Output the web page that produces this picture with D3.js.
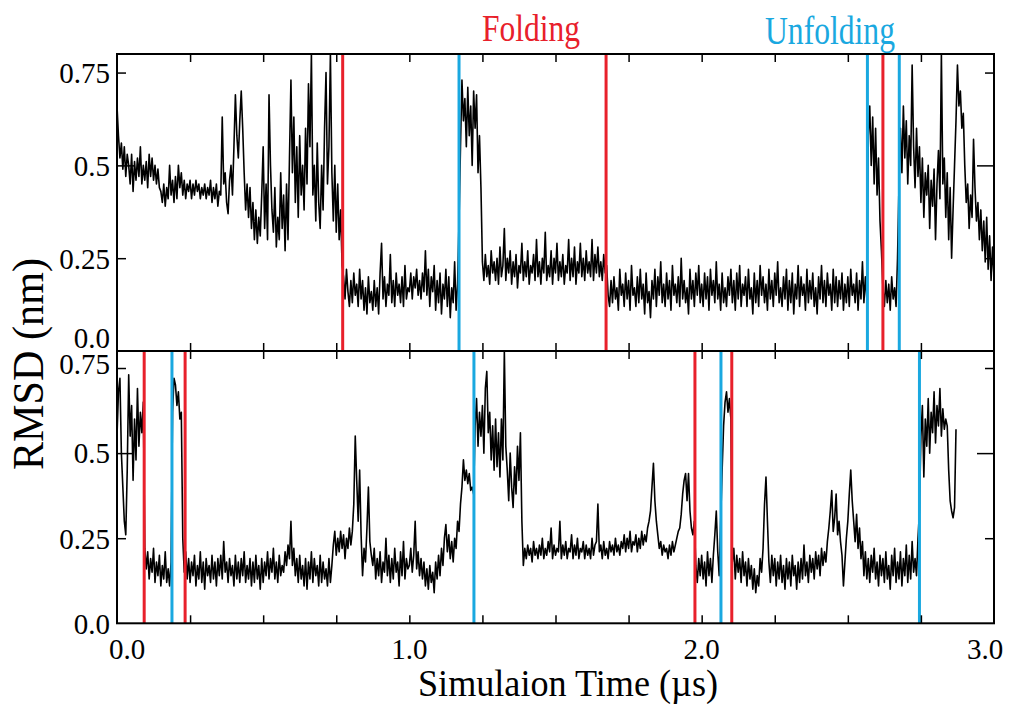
<!DOCTYPE html>
<html>
<head>
	<meta charset="utf-8">
	<title>RMSD folding / unfolding</title>
	<script src="https://cdn.jsdelivr.net/npm/d3@7/dist/d3.min.js"></script>
</head>
<style type="text/css">
body { margin: 0; background: #fff; }
text { font-family: "Liberation Serif", "Times New Roman", serif; }
</style>
<body>
</body>
</html>
<script type="text/javascript">
	// sampling step of the traces, in microseconds
	var dt = 0.005;

	// run 1 (top panel), RMSD in nm, one value every dt from 0 to 3.0 us
	var topRmsd = [
		0.66, 0.58, 0.52, 0.56, 0.49, 0.55, 0.47, 0.53, 0.50, 0.45, 0.53, 0.43, 0.51, 0.46, 0.52, 0.47, 0.55, 0.45, 0.50, 0.46,
		0.51, 0.44, 0.53, 0.47, 0.52, 0.46, 0.50, 0.45, 0.49, 0.44, 0.43, 0.40, 0.45, 0.39, 0.44, 0.41, 0.50, 0.42, 0.46, 0.40,
		0.47, 0.41, 0.50, 0.44, 0.48, 0.42, 0.46, 0.41, 0.45, 0.43, 0.46, 0.41, 0.45, 0.42, 0.46, 0.43, 0.45, 0.41, 0.44, 0.42,
		0.45, 0.41, 0.44, 0.42, 0.46, 0.40, 0.44, 0.41, 0.45, 0.39, 0.43, 0.42, 0.63, 0.45, 0.48, 0.40, 0.37, 0.46, 0.50, 0.42,
		0.55, 0.69, 0.58, 0.52, 0.62, 0.70, 0.60, 0.48, 0.38, 0.45, 0.36, 0.44, 0.33, 0.40, 0.30, 0.38, 0.29, 0.36, 0.31, 0.42,
		0.55, 0.33, 0.45, 0.30, 0.69, 0.50, 0.38, 0.32, 0.44, 0.28, 0.36, 0.30, 0.48, 0.33, 0.42, 0.27, 0.45, 0.30, 0.52, 0.73,
		0.48, 0.63, 0.40, 0.55, 0.36, 0.58, 0.42, 0.50, 0.38, 0.60, 0.45, 0.72, 0.55, 0.80, 0.42, 0.50, 0.35, 0.56, 0.40, 0.33,
		0.50, 0.38, 0.60, 0.75, 0.45, 0.55, 0.80, 0.48, 0.35, 0.50, 0.32, 0.45, 0.30, 0.38, 0.23, 0.20, 0.14, 0.22, 0.16, 0.12,
		0.19, 0.13, 0.21, 0.15, 0.18, 0.12, 0.22, 0.14, 0.19, 0.11, 0.17, 0.10, 0.20, 0.13, 0.16, 0.11, 0.19, 0.12, 0.17, 0.10,
		0.21, 0.29, 0.14, 0.20, 0.12, 0.18, 0.15, 0.26, 0.13, 0.19, 0.12, 0.21, 0.15, 0.18, 0.13, 0.20, 0.12, 0.23, 0.14, 0.17,
		0.16, 0.21, 0.14, 0.20, 0.17, 0.22, 0.15, 0.19, 0.14, 0.21, 0.16, 0.27, 0.15, 0.22, 0.12, 0.20, 0.16, 0.23, 0.11, 0.19,
		0.13, 0.21, 0.10, 0.18, 0.14, 0.22, 0.12, 0.20, 0.09, 0.17, 0.13, 0.24, 0.11, 0.18,
		0.35, 0.55, 0.73, 0.62, 0.68, 0.55, 0.71, 0.58, 0.66, 0.50, 0.70, 0.60, 0.69, 0.48, 0.58, 0.44,
		0.24, 0.19, 0.26, 0.20, 0.23, 0.18, 0.27, 0.21, 0.24, 0.19,
		0.25, 0.18, 0.28, 0.20, 0.23, 0.33, 0.19, 0.25, 0.21, 0.27,
		0.18, 0.24, 0.20, 0.26, 0.17, 0.23, 0.21, 0.29, 0.19, 0.24,
		0.20, 0.27, 0.18, 0.23, 0.21, 0.26, 0.19, 0.30, 0.20, 0.24,
		0.18, 0.25, 0.21, 0.32, 0.19, 0.23, 0.20, 0.27, 0.18, 0.25,
		0.21, 0.29, 0.19, 0.24, 0.20, 0.26, 0.18, 0.23, 0.21, 0.30,
		0.19, 0.25, 0.20, 0.28, 0.18, 0.24, 0.21, 0.29, 0.20, 0.25,
		0.19, 0.27, 0.21, 0.24, 0.20, 0.30, 0.19, 0.26, 0.21, 0.28,
		0.20, 0.24, 0.19, 0.26, 0.21, 0.23,
		0.15, 0.12, 0.19, 0.13,
		0.20, 0.14, 0.17, 0.11, 0.22, 0.15, 0.18, 0.12, 0.21, 0.14,
		0.19, 0.11, 0.23, 0.15, 0.17, 0.12, 0.20, 0.13, 0.22, 0.14,
		0.18, 0.10, 0.21, 0.13, 0.16, 0.09, 0.19, 0.14, 0.22, 0.12,
		0.20, 0.15, 0.24, 0.13, 0.18, 0.12, 0.21, 0.14, 0.19, 0.11,
		0.23, 0.15, 0.18, 0.13, 0.20, 0.12, 0.25, 0.14, 0.19, 0.13,
		0.17, 0.10, 0.22, 0.14, 0.19, 0.12, 0.21, 0.15, 0.23, 0.13,
		0.18, 0.12, 0.21, 0.14, 0.20, 0.11, 0.22, 0.15, 0.19, 0.13,
		0.24, 0.14, 0.18, 0.11, 0.21, 0.13, 0.17, 0.12, 0.20, 0.15,
		0.22, 0.13, 0.19, 0.11, 0.21, 0.14, 0.23, 0.12, 0.18, 0.15,
		0.20, 0.12, 0.22, 0.14, 0.17, 0.10, 0.21, 0.13, 0.19, 0.12,
		0.23, 0.15, 0.20, 0.13, 0.18, 0.11, 0.22, 0.14, 0.19, 0.12,
		0.21, 0.15, 0.24, 0.13, 0.17, 0.12, 0.20, 0.14, 0.22, 0.11,
		0.19, 0.13, 0.21, 0.10, 0.18, 0.14, 0.23, 0.12, 0.20, 0.15,
		0.18, 0.11, 0.22, 0.13, 0.19, 0.14, 0.21, 0.12, 0.17, 0.10,
		0.20, 0.14, 0.23, 0.13, 0.19, 0.12, 0.21, 0.15, 0.18, 0.11,
		0.22, 0.13, 0.20, 0.12, 0.19, 0.14, 0.21, 0.11, 0.18, 0.13,
		0.20, 0.12, 0.22, 0.15, 0.18, 0.13, 0.21, 0.11, 0.19, 0.14,
		0.24, 0.13, 0.20, 0.14,
		0.58, 0.66, 0.50, 0.63, 0.45, 0.60, 0.42, 0.52, 0.35, 0.27,
		0.17, 0.12, 0.19, 0.13, 0.18, 0.11, 0.20, 0.14, 0.17, 0.12,
		0.25, 0.45,
		0.60, 0.48, 0.66, 0.52, 0.62, 0.45, 0.58, 0.50, 0.77, 0.55, 0.44, 0.60, 0.47, 0.55,
		0.40, 0.52, 0.36, 0.48, 0.42, 0.50, 0.33, 0.46, 0.39, 0.49, 0.30, 0.45, 0.54, 0.41,
		0.80,
		0.45, 0.52, 0.36, 0.48, 0.30, 0.44, 0.25, 0.38, 0.50,
		0.62, 0.77, 0.66, 0.70, 0.60, 0.64,
		0.50, 0.40, 0.45, 0.33, 0.42, 0.36, 0.57, 0.44, 0.35, 0.40,
		0.30, 0.38, 0.27, 0.35, 0.24, 0.36, 0.22, 0.31, 0.19, 0.28, 0.20
	];

	// run 2 (bottom panel), same step, ends at 2.87 us
	var bottomRmsd = [
		0.55, 0.68, 0.72, 0.50, 0.40, 0.30, 0.26, 0.45, 0.73, 0.55, 0.64, 0.42, 0.60, 0.48, 0.69, 0.52, 0.62, 0.56, 0.65,
		0.22,
		0.16, 0.21, 0.13, 0.19, 0.15, 0.22, 0.12, 0.18, 0.14, 0.20, 0.11, 0.17, 0.13, 0.21, 0.12, 0.16, 0.11,
		0.18, 0.62, 0.72, 0.70, 0.64, 0.68, 0.60, 0.62, 0.25,
		0.15, 0.21, 0.13, 0.19,
		0.12, 0.18, 0.14, 0.20, 0.11, 0.17, 0.13, 0.21, 0.12, 0.18,
		0.10, 0.19, 0.14, 0.17, 0.12, 0.20, 0.13, 0.18, 0.11, 0.19,
		0.14, 0.20, 0.13, 0.24, 0.15, 0.18, 0.12, 0.19, 0.14, 0.17,
		0.11, 0.20, 0.13, 0.18, 0.12, 0.19, 0.14, 0.21, 0.12, 0.17,
		0.13, 0.19, 0.11, 0.18, 0.12, 0.20, 0.13, 0.17, 0.10, 0.19,
		0.12, 0.18, 0.14, 0.21, 0.13, 0.19, 0.15, 0.22, 0.13, 0.18,
		0.12, 0.20, 0.14, 0.17, 0.15, 0.21, 0.17, 0.23, 0.19, 0.30,
		0.17, 0.22, 0.14, 0.19, 0.12, 0.20, 0.13, 0.17, 0.11, 0.19,
		0.10, 0.18, 0.13, 0.21, 0.12, 0.19, 0.14, 0.17, 0.11, 0.20,
		0.12, 0.18, 0.13, 0.16, 0.11, 0.19, 0.12, 0.17,
		0.23, 0.27, 0.20, 0.25, 0.21, 0.27, 0.22, 0.26, 0.19, 0.25, 0.22, 0.28, 0.23, 0.27,
		0.35, 0.55, 0.42, 0.30, 0.45, 0.26, 0.14, 0.22, 0.18, 0.28, 0.40, 0.24, 0.20, 0.17,
		0.22, 0.13, 0.19, 0.14,
		0.21, 0.12, 0.18, 0.15, 0.25, 0.14, 0.20, 0.12, 0.19, 0.13,
		0.22, 0.15, 0.18, 0.11, 0.21, 0.14, 0.24, 0.13, 0.19, 0.16,
		0.17, 0.22, 0.15, 0.20, 0.30, 0.16, 0.21, 0.14, 0.19, 0.13,
		0.18, 0.11, 0.16, 0.10, 0.17, 0.12, 0.15, 0.09, 0.18, 0.13,
		0.20, 0.14, 0.22, 0.17, 0.25, 0.29, 0.21, 0.26, 0.19, 0.24,
		0.18, 0.25, 0.22, 0.30, 0.27, 0.35, 0.40, 0.48, 0.42, 0.45, 0.41, 0.44, 0.39, 0.40,
		0.38, 0.58, 0.66, 0.52, 0.62, 0.55, 0.64, 0.50, 0.69, 0.74, 0.56, 0.62, 0.48, 0.58, 0.45, 0.60,
		0.46, 0.56, 0.43, 0.60, 0.48, 0.80, 0.52,
		0.45, 0.36, 0.50, 0.40, 0.34, 0.46, 0.38, 0.52, 0.42, 0.56,
		0.30, 0.17,
		0.22,
		0.19, 0.23, 0.20, 0.22, 0.18, 0.24, 0.20, 0.22, 0.19, 0.23,
		0.20, 0.25, 0.19, 0.22, 0.20, 0.24, 0.21, 0.28, 0.19, 0.23,
		0.20, 0.22, 0.21, 0.30, 0.19, 0.23, 0.20, 0.24, 0.19, 0.22,
		0.21, 0.26, 0.19, 0.23, 0.20, 0.25, 0.19, 0.22, 0.21, 0.24,
		0.19, 0.23, 0.20, 0.22, 0.19, 0.25, 0.20, 0.23, 0.24, 0.35,
		0.21, 0.23, 0.19, 0.24, 0.20, 0.22, 0.19, 0.24, 0.21, 0.23,
		0.20, 0.25, 0.21, 0.23, 0.20, 0.24, 0.22, 0.26, 0.21, 0.25,
		0.22, 0.27, 0.21, 0.24, 0.23, 0.26, 0.21, 0.25, 0.22, 0.27,
		0.23, 0.26, 0.24, 0.28, 0.30, 0.33, 0.40, 0.47, 0.36, 0.30,
		0.26, 0.22, 0.24, 0.20, 0.23, 0.21, 0.22, 0.19, 0.23, 0.20,
		0.24, 0.21, 0.23, 0.25, 0.27, 0.28, 0.32, 0.38, 0.42, 0.44,
		0.36, 0.44, 0.33, 0.28, 0.26, 0.30,
		0.17, 0.12, 0.19, 0.14, 0.20, 0.13, 0.18, 0.11, 0.21, 0.14, 0.19, 0.12, 0.20, 0.26, 0.33,
		0.21, 0.14,
		0.30, 0.45, 0.58, 0.65, 0.68, 0.62, 0.66, 0.60,
		0.18,
		0.22, 0.13, 0.20, 0.15, 0.19, 0.12, 0.21, 0.14, 0.18, 0.11, 0.19, 0.13, 0.17, 0.10, 0.16, 0.09, 0.14, 0.11, 0.19, 0.15, 0.22,
		0.35, 0.43, 0.30,
		0.18, 0.12, 0.20, 0.14,
		0.19, 0.11, 0.18, 0.13, 0.20, 0.12, 0.17, 0.10, 0.19, 0.13,
		0.18, 0.11, 0.20, 0.14, 0.17, 0.10, 0.18, 0.12, 0.19, 0.13,
		0.23, 0.14, 0.18, 0.12, 0.20, 0.15, 0.19, 0.13, 0.21, 0.16,
		0.20, 0.14, 0.22, 0.17, 0.21, 0.18, 0.24,
		0.28, 0.33, 0.39, 0.27, 0.31, 0.38, 0.26, 0.30, 0.24, 0.20, 0.11, 0.18, 0.25,
		0.30, 0.38, 0.45, 0.36, 0.30, 0.24, 0.32, 0.22, 0.28, 0.19, 0.24,
		0.14, 0.21, 0.13, 0.19, 0.12, 0.20, 0.15, 0.22, 0.13,
		0.18, 0.11, 0.20, 0.14, 0.19, 0.12, 0.21, 0.13, 0.17, 0.10,
		0.20, 0.14, 0.22, 0.12, 0.18, 0.13, 0.21, 0.11, 0.19, 0.14,
		0.23, 0.12, 0.20, 0.13, 0.24, 0.15, 0.19, 0.14, 0.25,
		0.33, 0.55, 0.64, 0.43, 0.60, 0.52, 0.66, 0.50, 0.62, 0.56, 0.68, 0.53, 0.64, 0.58, 0.69, 0.55, 0.63, 0.57, 0.60, 0.58,
		0.45, 0.36, 0.33, 0.31, 0.34, 0.57
	];

	// event markers (us)
	var topFolding = [0.772, 1.673, 2.620];
	var topUnfolding = [1.170, 2.567, 2.676];
	var bottomFolding = [0.093, 0.233, 1.977, 2.103];
	var bottomUnfolding = [0.188, 1.221, 2.066, 2.745];

	var xTicks = [0, 1, 2, 3];
	var xTickLabels = ["0.0", "1.0", "2.0", "3.0"];
	var xMinorTicks = [0.25, 0.5, 0.75, 1, 1.25, 1.5, 1.75, 2, 2.25, 2.5, 2.75];
	var yTicks = [0, 0.25, 0.5, 0.75];
	var yTickLabels = ["0.0", "0.25", "0.5", "0.75"];

	var red = "#e8202b";
	var blue = "#1aa8e0";
	var serif = "Liberation Serif, Times New Roman, serif";

	var w = 1009;
	var h = 704;
	var svg = d3.select("body").append("svg").attr("width", w).attr("height", h);
	svg.append("rect").attr("width", w).attr("height", h).attr("fill", "#fff");

	var x = d3.scaleLinear().domain([0, 3]).range([117, 994]);
	var yTop = d3.scaleLinear().domain([0, 0.8]).range([351, 54]);
	var yBot = d3.scaleLinear().domain([0, 0.8]).range([623.3, 351]);

	function panel(name, y, values, folding, unfolding, isTop)
	{
		var g = svg.append("g");
		var y0 = y.range()[1], y1 = y.range()[0];

		svg.append("clipPath").attr("id", "clip-" + name)
			.append("rect").attr("x", x(0)).attr("y", y0).attr("width", x(3) - x(0)).attr("height", y1 - y0);

		var line = d3.line()
			.x(function(d, i){ return x(i * dt); })
			.y(function(d){ return y(d); });

		g.append("path").datum(values)
			.attr("clip-path", "url(#clip-" + name + ")")
			.attr("d", line)
			.attr("fill", "none")
			.attr("stroke", "#000")
			.attr("stroke-width", 1.6)
			.attr("stroke-linejoin", "round");

		// folding / unfolding events
		g.selectAll(".fold").data(folding).enter().append("line")
			.attr("x1", x).attr("x2", x).attr("y1", y0).attr("y2", y1)
			.attr("stroke", red).attr("stroke-width", 3);
		g.selectAll(".unfold").data(unfolding).enter().append("line")
			.attr("x1", x).attr("x2", x).attr("y1", y0).attr("y2", y1)
			.attr("stroke", blue).attr("stroke-width", 3);

		// inward ticks, long one at 0.5
		g.append("g").attr("transform", "translate(" + x(0) + ",0)").call(d3.axisLeft(y).tickValues([0.5]).tickSize(-17).tickFormat(""));
		g.append("g").attr("transform", "translate(" + x(0) + ",0)").call(d3.axisLeft(y).tickValues([0.25, 0.75]).tickSize(-9).tickFormat(""));
		g.append("g").attr("transform", "translate(" + x(3) + ",0)").call(d3.axisRight(y).tickValues([0.5]).tickSize(-17).tickFormat(""));
		g.append("g").attr("transform", "translate(" + x(3) + ",0)").call(d3.axisRight(y).tickValues([0.25, 0.75]).tickSize(-9).tickFormat(""));
		g.append("g").attr("transform", "translate(0," + y1 + ")").call(d3.axisBottom(x).tickValues(xMinorTicks).tickSize(-8).tickFormat(""));
		g.append("g").attr("transform", "translate(0," + y0 + ")").call(d3.axisTop(x).tickValues(xMinorTicks).tickSize(-8).tickFormat(""));

		// y labels
		var lab = g.append("g").attr("transform", "translate(" + x(0) + ",0)")
			.call(d3.axisLeft(y).tickValues(yTicks).tickSize(0).tickPadding(7)
				.tickFormat(function(d, i){ return yTickLabels[i]; }));
		lab.attr("font-family", serif);
		lab.selectAll("text").attr("font-size", 29).attr("font-family", serif).attr("fill", "#000")
			.attr("dy", function(d){
				if (isTop && d === 0) return "-0.12em";
				if (!isTop && d === 0.75) return "0.2em";
				return "0.34em";
			});

		g.selectAll(".domain").remove();
		g.selectAll(".tick line").attr("stroke", "#000").attr("stroke-width", 1.5);

		g.append("rect").attr("x", x(0)).attr("y", y0).attr("width", x(3) - x(0)).attr("height", y1 - y0)
			.attr("fill", "none").attr("stroke", "#000").attr("stroke-width", 2);
	}

	panel("top", yTop, topRmsd, topFolding, topUnfolding, true);
	panel("bot", yBot, bottomRmsd, bottomFolding, bottomUnfolding, false);

	// x labels under the bottom panel
	svg.selectAll(".xlab").data(xTicks).enter().append("text")
		.attr("x", function(d){ return x(d) + (d === 0 ? 10 : d === 3 ? -9 : 0); })
		.attr("y", 659)
		.attr("text-anchor", "middle")
		.attr("font-family", serif)
		.attr("font-size", 29)
		.text(function(d, i){ return xTickLabels[i]; });

	svg.append("text")
		.attr("x", 568).attr("y", 696)
		.attr("text-anchor", "middle")
		.attr("font-family", serif)
		.attr("font-size", 38)
		.attr("textLength", 300).attr("lengthAdjust", "spacingAndGlyphs")
		.text("Simulaion Time (\u00b5s)");

	svg.append("text")
		.attr("transform", "translate(43,364) rotate(-90)")
		.attr("text-anchor", "middle")
		.attr("font-family", serif)
		.attr("font-size", 44)
		.attr("textLength", 212).attr("lengthAdjust", "spacingAndGlyphs")
		.text("RMSD (nm)");

	svg.append("text")
		.attr("x", 531).attr("y", 41)
		.attr("text-anchor", "middle")
		.attr("font-family", serif)
		.attr("font-size", 38)
		.attr("textLength", 98).attr("lengthAdjust", "spacingAndGlyphs")
		.attr("fill", red)
		.text("Folding");

	svg.append("text")
		.attr("x", 830).attr("y", 44)
		.attr("text-anchor", "middle")
		.attr("font-family", serif)
		.attr("font-size", 41)
		.attr("textLength", 130).attr("lengthAdjust", "spacingAndGlyphs")
		.attr("fill", blue)
		.text("Unfolding");
</script>
